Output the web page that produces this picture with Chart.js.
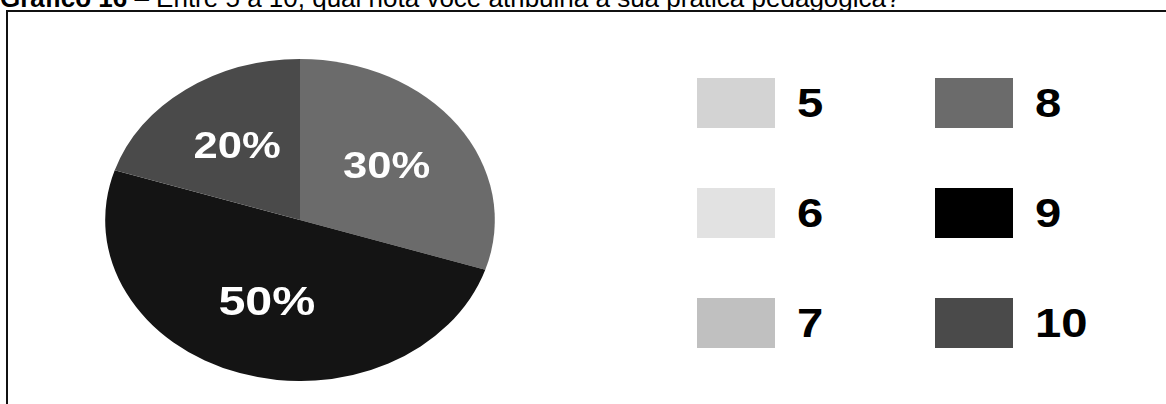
<!DOCTYPE html>
<html lang="pt-BR">
<head>
<meta charset="utf-8">
<title>Gráfico 16</title>
<script src="https://cdn.jsdelivr.net/npm/chart.js@4/dist/chart.umd.min.js"></script>
<style>
  html, body { margin: 0; padding: 0; background: #fff; }
  body { width: 1166px; height: 404px; overflow: hidden; position: relative; font-family: "Liberation Sans", Arial, sans-serif; }
  #title { position: absolute; left: 0; top: -15px; font-size: 26px; line-height: 26px; white-space: nowrap; color: #000; }
  #title b { font-weight: bold; }
  #frame { position: absolute; left: 6px; top: 10px; width: 1300px; height: 500px; border-top: 2px solid #111; border-left: 2px solid #111; }
  #pieWrap { position: absolute; left: 80px; top: 59px; width: 440px; height: 322px; }
  #legend { position: absolute; left: 697px; top: 78px; display: grid; grid-auto-flow: column; grid-template-rows: repeat(3, 50px); grid-template-columns: 238px 238px; row-gap: 60px; }
  .item { display: flex; align-items: center; height: 50px; }
  .box { width: 78px; height: 50px; flex: none; }
  .lbl { display: inline-block; margin-left: 22px; font: bold 40px/50px "Liberation Sans", Arial, sans-serif; color: #000; transform: scaleX(1.18); transform-origin: left center; }
</style>
</head>
<body>
<div id="title"><b>Gráfico 16</b> – Entre 5 a 10, qual nota você atribuiria a sua prática pedagógica?</div>
<div id="frame"></div>
<div id="pieWrap"><canvas id="pie"></canvas></div>
<div id="legend"></div>
<script>
// Notas atribuídas (5 a 10) e percentual de respostas
const notas = ['5', '6', '7', '8', '9', '10'];
const percentuais = [0, 0, 0, 30, 50, 20];
const cores = ['#d3d3d3', '#e2e2e2', '#c0c0c0', '#6b6b6b', '#141414', '#4a4a4a'];

// Horizontal stretch of the pie (drawn as an ellipse) and label placement
const STRETCH_X = 1.21;
const LABEL_RADIUS = 0.55;
const LABEL_FONT_SIZE = { 3: 36, 4: 40, 5: 36 };

const ellipsePie = {
  id: 'ellipsePie',
  beforeDatasetsDraw(chart) {
    const arc = chart.getDatasetMeta(0).data[0];
    const ctx = chart.ctx;
    ctx.save();
    ctx.translate(arc.x, arc.y);
    ctx.scale(STRETCH_X, 1);
    ctx.translate(-arc.x, -arc.y);
  },
  afterDatasetsDraw(chart) {
    const ctx = chart.ctx;
    const meta = chart.getDatasetMeta(0);
    const values = chart.data.datasets[0].data;
    ctx.textAlign = 'center';
    ctx.textBaseline = 'middle';
    ctx.fillStyle = '#ffffff';
    meta.data.forEach((arc, i) => {
      if (!values[i]) return;
      const mid = (arc.startAngle + arc.endAngle) / 2;
      const r = arc.outerRadius * LABEL_RADIUS;
      const size = LABEL_FONT_SIZE[i] || 36;
      ctx.font = 'bold ' + size + 'px "Liberation Sans", Arial, sans-serif';
      ctx.fillText(values[i] + '%', arc.x + Math.cos(mid) * r, arc.y + Math.sin(mid) * r);
    });
    ctx.restore();
  }
};

const chart = new Chart(document.getElementById('pie'), {
  type: 'pie',
  data: {
    labels: notas,
    datasets: [{
      data: percentuais,
      backgroundColor: cores,
      borderWidth: 0
    }]
  },
  options: {
    responsive: true,
    maintainAspectRatio: false,
    animation: false,
    layout: { padding: 0 },
    plugins: {
      legend: { display: false },
      tooltip: { enabled: false }
    }
  },
  plugins: [ellipsePie]
});

// Legend in two columns (5–7 | 8–10), built from the chart's own legend items
const legendEl = document.getElementById('legend');
const items = chart.options.plugins.legend.labels.generateLabels(chart);
items.forEach(it => {
  const row = document.createElement('div');
  row.className = 'item';
  const box = document.createElement('span');
  box.className = 'box';
  box.style.background = it.text === '9' ? '#000000' : it.fillStyle;
  const lbl = document.createElement('span');
  lbl.className = 'lbl';
  lbl.textContent = it.text;
  row.appendChild(box);
  row.appendChild(lbl);
  legendEl.appendChild(row);
});
</script>
</body>
</html>
